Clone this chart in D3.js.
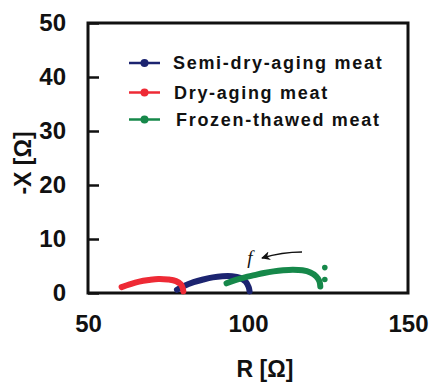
<!DOCTYPE html>
<html>
<head>
<meta charset="utf-8">
<script src="https://cdn.jsdelivr.net/npm/d3@7"></script>
<style>
  html, body { margin: 0; padding: 0; background: #fff; }
  svg { display: block; }
</style>
</head>
<body>
<svg id="chart" width="435" height="384"></svg>
<script>
// Nyquist plot values (R and -X in ohms)
const seriesNames = ['Semi-dry-aging meat', 'Dry-aging meat', 'Frozen-thawed meat'];

const semiDryR = [77.8, 80, 83, 86, 89, 92, 95, 97.5, 99.3, 100.2, 100.5];
const semiDryX = [0.6, 1.3, 2.0, 2.5, 2.9, 3.1, 3.1, 2.8, 2.1, 1.1, 0.3];

const dryR = [60.5, 63, 66, 69, 72, 75, 77.5, 79, 79.6, 79.8];
const dryX = [1.1, 1.6, 2.1, 2.4, 2.6, 2.5, 2.2, 1.6, 0.9, 0.3];

const frozenR = [93.3, 96, 99, 102, 105, 108, 111, 114, 117, 119.5, 121.3, 122.3, 122.6];
const frozenX = [1.8, 2.4, 2.9, 3.3, 3.7, 4.0, 4.2, 4.3, 4.2, 3.8, 3.1, 2.2, 1.2];
// stray high-frequency points past the end of the frozen-thawed arc
const frozenExtraR = [124, 124];
const frozenExtraX = [4.7, 2.5];

const xTicks = [50, 100, 150];
const yTicks = [0, 10, 20, 30, 40, 50];

const COLORS = ['#1c2470', '#ee2a35', '#16884a'];

const svg = d3.select('#chart');
const margin = { top: 23, right: 27, bottom: 91, left: 88 };
const width = 435, height = 384;
const innerWidth = width - margin.left - margin.right;
const innerHeight = height - margin.top - margin.bottom;
const FONT = '"Liberation Sans", Arial, sans-serif';

const g = svg.append('g').attr('transform', `translate(${margin.left},${margin.top})`);

const x = d3.scaleLinear().domain([50, 150]).range([0, innerWidth]);
const y = d3.scaleLinear().domain([0, 50]).range([innerHeight, 0]);

// Frame
g.append('rect')
  .attr('width', innerWidth)
  .attr('height', innerHeight)
  .attr('fill', 'none')
  .attr('stroke', '#111')
  .attr('stroke-width', 3);

// Y axis: inward ticks, big bold labels
g.append('g')
  .call(d3.axisLeft(y).tickValues(yTicks).tickSize(-11).tickPadding(22).tickFormat(d3.format('d')))
  .call((axis) => {
    axis.select('.domain').remove();
    axis.selectAll('.tick line').attr('stroke', '#111').attr('stroke-width', 2.5);
    axis.selectAll('.tick text')
      .attr('fill', '#111')
      .attr('font-family', FONT)
      .attr('font-weight', 'bold')
      .attr('font-size', '24px');
  });

// X axis labels only
g.append('g')
  .attr('transform', `translate(0,${innerHeight})`)
  .call(d3.axisBottom(x).tickValues(xTicks).tickSize(0).tickPadding(22).tickFormat(d3.format('d')))
  .call((axis) => {
    axis.select('.domain').remove();
    axis.selectAll('.tick text')
      .attr('fill', '#111')
      .attr('font-family', FONT)
      .attr('font-weight', 'bold')
      .attr('font-size', '24px');
  });

// Axis titles
svg.append('text')
  .attr('x', 265)
  .attr('y', 377)
  .attr('text-anchor', 'middle')
  .attr('fill', '#111')
  .attr('font-family', FONT)
  .attr('font-weight', 'bold')
  .attr('font-size', '23px')
  .text('R [Ω]');

svg.append('text')
  .attr('transform', 'translate(31,163) rotate(-90)')
  .attr('text-anchor', 'middle')
  .attr('fill', '#111')
  .attr('font-family', FONT)
  .attr('font-weight', 'bold')
  .attr('font-size', '23px')
  .text('-X [Ω]');

// Data arcs
const series = [
  { r: semiDryR, v: semiDryX },
  { r: dryR, v: dryX },
  { r: frozenR, v: frozenX },
];

const lineGen = d3.line()
  .x((d) => x(d[0]))
  .y((d) => y(d[1]))
  .curve(d3.curveCatmullRom);

series.forEach((s, i) => {
  const pts = s.r.map((r, k) => [r, s.v[k]]);
  g.append('path')
    .datum(pts)
    .attr('fill', 'none')
    .attr('stroke', COLORS[i])
    .attr('stroke-width', 6)
    .attr('stroke-linecap', 'round')
    .attr('stroke-linejoin', 'round')
    .attr('d', lineGen);
});

g.selectAll('circle.extra')
  .data(frozenExtraR.map((r, k) => [r, frozenExtraX[k]]))
  .join('circle')
  .attr('class', 'extra')
  .attr('cx', (d) => x(d[0]))
  .attr('cy', (d) => y(d[1]))
  .attr('r', 2.8)
  .attr('fill', COLORS[2]);

// Frequency direction annotation
svg.append('text')
  .attr('x', 250)
  .attr('y', 264)
  .attr('text-anchor', 'middle')
  .attr('fill', '#111')
  .attr('font-family', '"Liberation Serif", "Times New Roman", serif')
  .attr('font-style', 'italic')
  .attr('font-size', '19px')
  .text('f');

svg.append('defs').append('marker')
  .attr('id', 'arrowhead')
  .attr('viewBox', '0 0 10 10')
  .attr('refX', 9)
  .attr('refY', 5)
  .attr('markerWidth', 9)
  .attr('markerHeight', 9)
  .attr('markerUnits', 'userSpaceOnUse')
  .attr('orient', 'auto')
  .append('path')
  .attr('d', 'M0,0 L10,5 L0,10 L3,5 Z')
  .attr('fill', '#111');

svg.append('path')
  .attr('d', 'M302,252 Q282,252 262,258')
  .attr('fill', 'none')
  .attr('stroke', '#111')
  .attr('stroke-width', 1.4)
  .attr('marker-end', 'url(#arrowhead)');

// Legend
const legendRows = [63, 92.5, 119.5];
const legendText = [173, 174, 176];
const legend = svg.append('g');
seriesNames.forEach((name, i) => {
  const row = legend.append('g').attr('transform', `translate(0,${legendRows[i]})`);
  row.append('line')
    .attr('x1', 129).attr('x2', 160)
    .attr('stroke', COLORS[i])
    .attr('stroke-width', 2.5);
  row.append('circle')
    .attr('cx', 144.5)
    .attr('r', 4)
    .attr('fill', COLORS[i]);
  row.append('text')
    .attr('x', legendText[i])
    .attr('y', 6)
    .attr('fill', '#111')
    .attr('font-family', FONT)
    .attr('font-weight', 'bold')
    .attr('font-size', '18px')
    .attr('letter-spacing', '1.7px')
    .text(name);
});
</script>
</body>
</html>
